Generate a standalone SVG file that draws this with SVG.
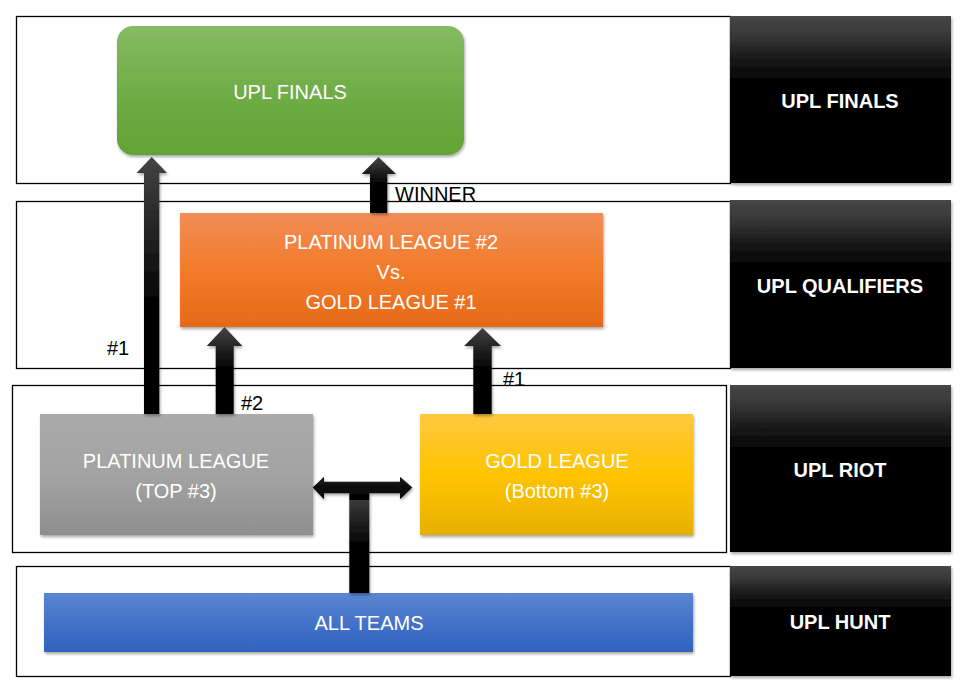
<svg xmlns="http://www.w3.org/2000/svg" width="974" height="684" viewBox="0 0 974 684">
<defs>
<linearGradient id="gGreen" x1="0" y1="0" x2="0" y2="1"><stop offset="0" stop-color="#86bb63"/><stop offset="0.5" stop-color="#70ad47"/><stop offset="1" stop-color="#62a334"/></linearGradient>
<linearGradient id="gOrange" x1="0" y1="0" x2="0" y2="1"><stop offset="0" stop-color="#f28d57"/><stop offset="0.5" stop-color="#f27b2a"/><stop offset="1" stop-color="#e66a18"/></linearGradient>
<linearGradient id="gGray" x1="0" y1="0" x2="0" y2="1"><stop offset="0" stop-color="#aaaaaa"/><stop offset="0.5" stop-color="#a3a3a3"/><stop offset="1" stop-color="#8f8f8f"/></linearGradient>
<linearGradient id="gGold" x1="0" y1="0" x2="0" y2="1"><stop offset="0" stop-color="#ffc840"/><stop offset="0.5" stop-color="#ffc400"/><stop offset="1" stop-color="#e6b000"/></linearGradient>
<linearGradient id="gBlue" x1="0" y1="0" x2="0" y2="1"><stop offset="0" stop-color="#5b87d2"/><stop offset="0.5" stop-color="#4472c8"/><stop offset="1" stop-color="#2f62bd"/></linearGradient>
<linearGradient id="gBlack" x1="0" y1="0" x2="0" y2="1"><stop offset="0" stop-color="#474747"/><stop offset="0.12" stop-color="#363636"/><stop offset="0.25" stop-color="#1a1a1a"/><stop offset="0.38" stop-color="#050505"/><stop offset="0.5" stop-color="#000"/><stop offset="1" stop-color="#000"/></linearGradient>
<linearGradient id="gArrowL" gradientUnits="userSpaceOnUse" x1="0" y1="157" x2="0" y2="414"><stop offset="0" stop-color="#444"/><stop offset="0.6" stop-color="#000"/><stop offset="1" stop-color="#000"/></linearGradient>
<linearGradient id="gArrowW" gradientUnits="userSpaceOnUse" x1="0" y1="157" x2="0" y2="213"><stop offset="0" stop-color="#444"/><stop offset="0.5" stop-color="#000"/><stop offset="1" stop-color="#000"/></linearGradient>
<linearGradient id="gArrowM" gradientUnits="userSpaceOnUse" x1="0" y1="327" x2="0" y2="414"><stop offset="0" stop-color="#444"/><stop offset="0.5" stop-color="#000"/><stop offset="1" stop-color="#000"/></linearGradient>
<linearGradient id="gArrowT" gradientUnits="userSpaceOnUse" x1="0" y1="477" x2="0" y2="593"><stop offset="0" stop-color="#1a1a1a"/><stop offset="0.2" stop-color="#000"/><stop offset="0.2" stop-color="#3a3a3a"/><stop offset="0.6" stop-color="#000"/><stop offset="1" stop-color="#000"/></linearGradient>
<filter id="sh" x="-10%" y="-10%" width="125%" height="130%"><feDropShadow dx="1" dy="2" stdDeviation="1.5" flood-color="#000" flood-opacity="0.35"/></filter>
</defs>
<style>
.frame{fill:none;stroke:#000;stroke-width:1.3}
.lbl{font-family:"Liberation Sans",Arial,sans-serif;font-size:20px;fill:#fff;text-anchor:middle}
.hdr{font-family:"Liberation Sans",Arial,sans-serif;font-size:20px;font-weight:bold;fill:#fff;text-anchor:middle}
.note{font-family:"Liberation Sans",Arial,sans-serif;font-size:20px;fill:#000}
</style>
<rect width="974" height="684" fill="#fff"/>
<g id="frames">
<rect class="frame" x="16.5" y="16.5" width="714" height="167"/>
<rect class="frame" x="16.5" y="201.5" width="714" height="167"/>
<rect class="frame" x="12.5" y="385.5" width="714" height="167"/>
<rect class="frame" x="16.5" y="566.5" width="714" height="110"/>
</g>
<g id="stage-finals"><rect x="730" y="16" width="221" height="167" fill="url(#gBlack)" filter="url(#sh)"/><text class="hdr" x="840" y="108">UPL FINALS</text></g>
<g id="stage-qualifiers"><rect x="730" y="200" width="221" height="168" fill="url(#gBlack)" filter="url(#sh)"/><text class="hdr" x="840" y="293">UPL QUALIFIERS</text></g>
<g id="stage-riot"><rect x="730" y="385" width="221" height="167" fill="url(#gBlack)" filter="url(#sh)"/><text class="hdr" x="840" y="477">UPL RIOT</text></g>
<g id="stage-hunt"><rect x="730" y="566" width="221" height="110" fill="url(#gBlack)" filter="url(#sh)"/><text class="hdr" x="840" y="629">UPL HUNT</text></g>
<g id="upl-finals"><rect x="117" y="26" width="347" height="129" rx="16" fill="url(#gGreen)" filter="url(#sh)"/><text class="lbl" x="290" y="99">UPL FINALS</text></g>
<g id="qualifier-match"><rect x="180" y="213" width="423" height="114" fill="url(#gOrange)" filter="url(#sh)"/><text class="lbl" x="391" y="249">PLATINUM LEAGUE #2</text><text class="lbl" x="391" y="279">Vs.</text><text class="lbl" x="391" y="309">GOLD LEAGUE #1</text></g>
<g id="platinum-league"><rect x="40" y="414" width="273" height="121" fill="url(#gGray)" filter="url(#sh)"/><text class="lbl" x="176" y="468">PLATINUM LEAGUE</text><text class="lbl" x="176" y="498">(TOP #3)</text></g>
<g id="gold-league"><rect x="420" y="414" width="273" height="121" fill="url(#gGold)" filter="url(#sh)"/><text class="lbl" x="557" y="468">GOLD LEAGUE</text><text class="lbl" x="557" y="498">(Bottom #3)</text></g>
<g id="all-teams"><rect x="44" y="593" width="649" height="59" fill="url(#gBlue)" filter="url(#sh)"/><text class="lbl" x="369" y="630">ALL TEAMS</text></g>
<g id="connectors" filter="url(#sh)">
<path d="M144 414 V173 H136.5 L151.7 157 L167 173 H159.3 V414 Z" fill="url(#gArrowL)"/>
<path d="M370 213 V174 H361.7 L378.5 157 L396 174 H387.3 V213 Z" fill="url(#gArrowW)"/>
<path d="M215.7 414 V346 H206.7 L224.5 327 L242.3 346 H233.7 V414 Z" fill="url(#gArrowM)"/>
<path d="M473.3 414 V346 H464 L482.5 328 L501 346 H491.7 V414 Z" fill="url(#gArrowM)"/>
<path d="M349.3 593 V493.3 H324 V499.3 L312.7 487.5 L324 476.7 V481.7 H400 V476.7 L412.3 487.5 L400 499.3 V493.3 H369.3 V593 Z" fill="url(#gArrowT)"/>
</g>
<g id="labels">
<text class="note" x="107" y="355">#1</text>
<text class="note" x="395" y="201">WINNER</text>
<text class="note" x="241" y="410">#2</text>
<text class="note" x="503" y="386">#1</text>
</g>
</svg>
